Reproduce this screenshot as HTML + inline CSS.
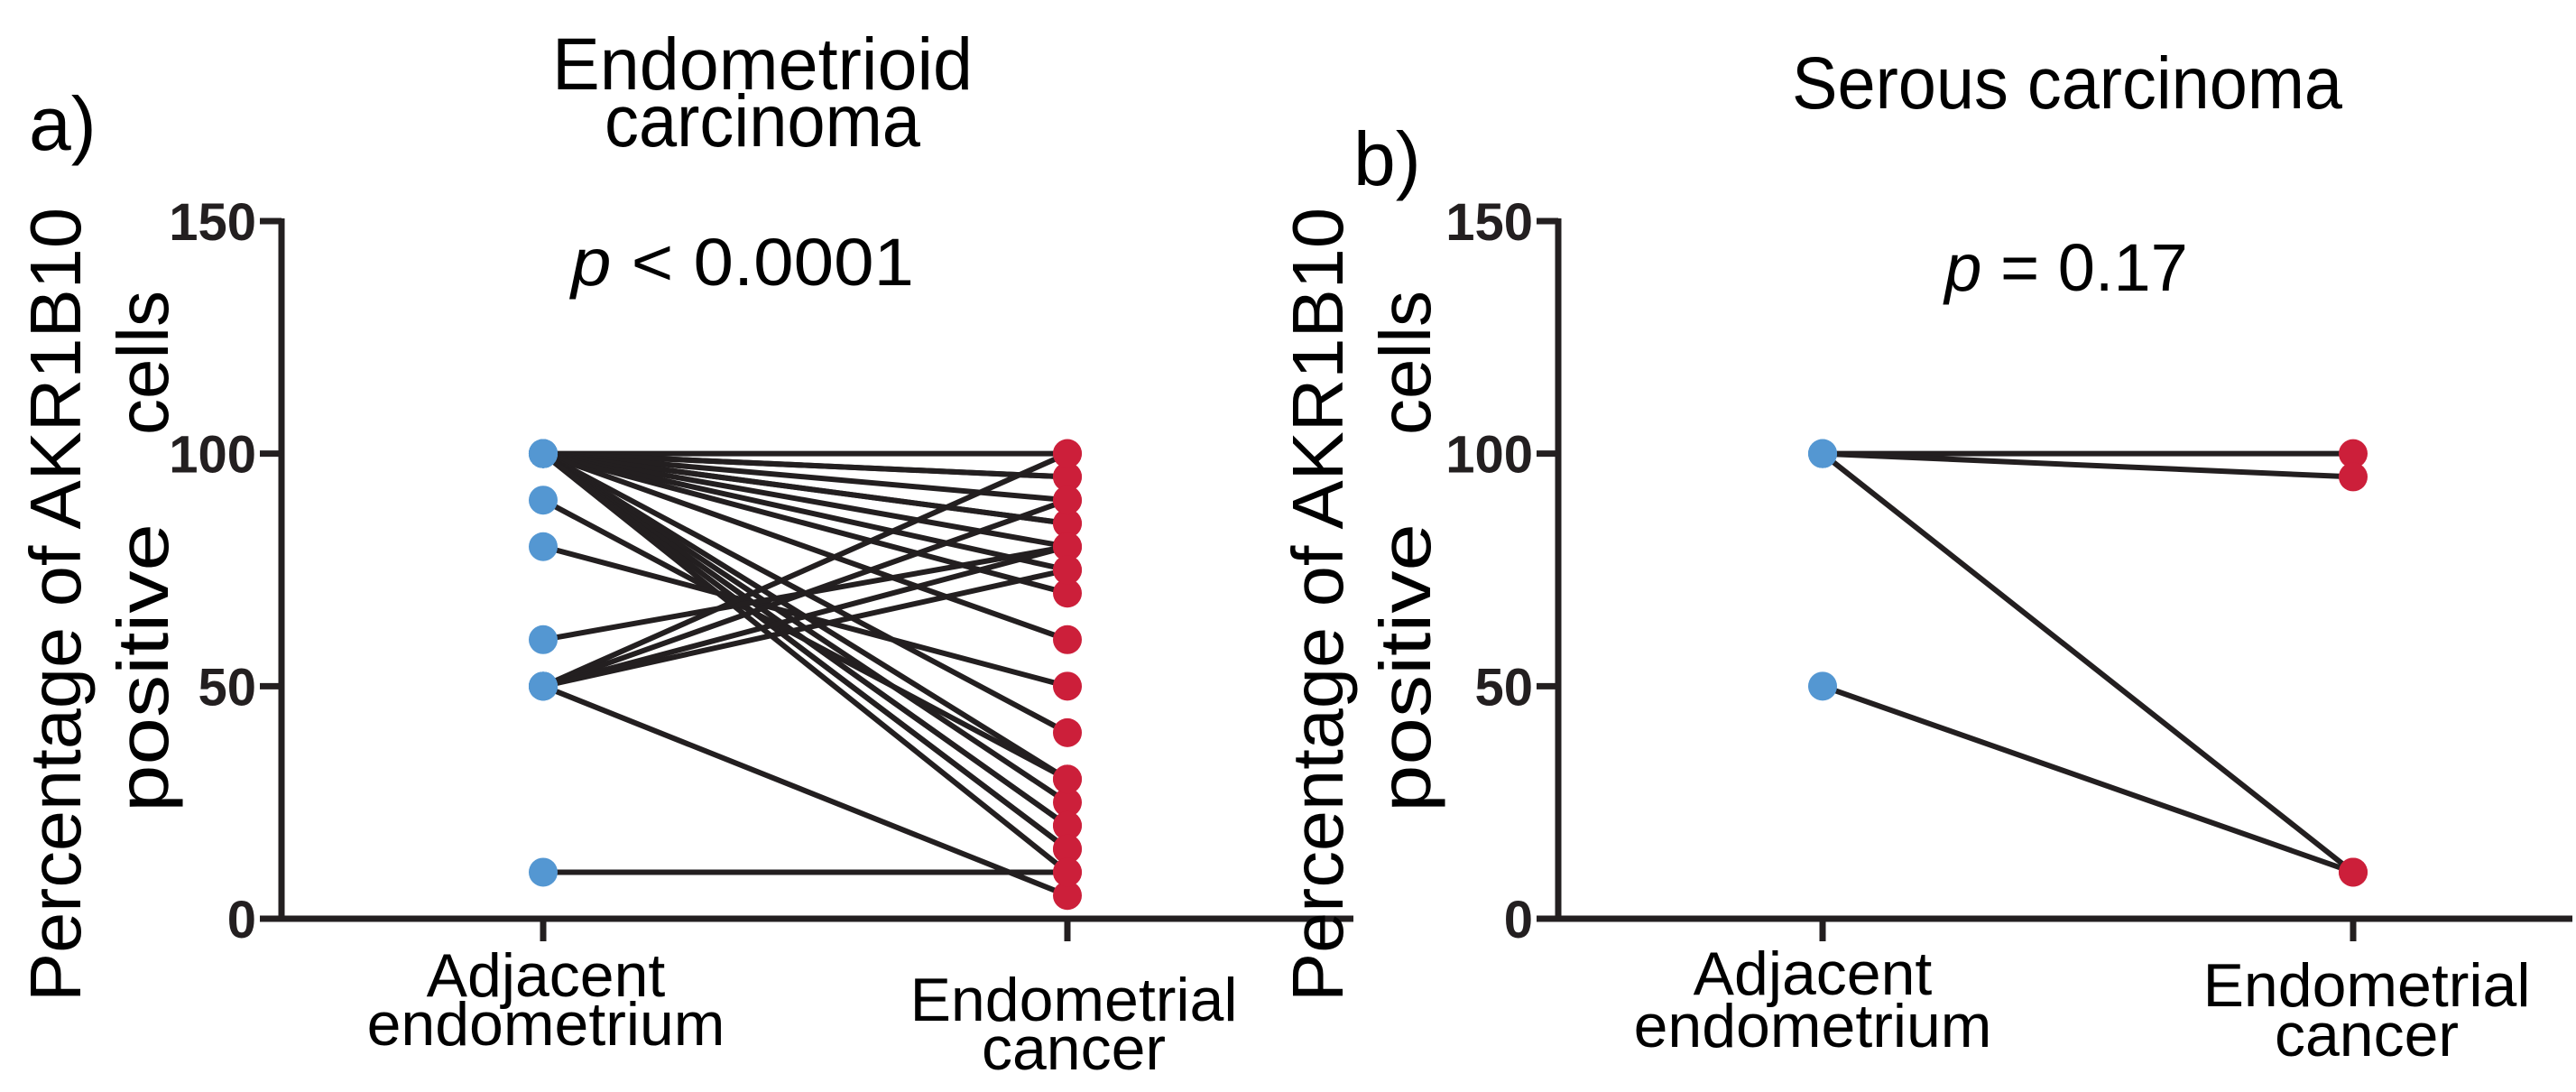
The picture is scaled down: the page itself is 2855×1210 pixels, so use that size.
<!DOCTYPE html>
<html><head><meta charset="utf-8"><style>
html,body{margin:0;padding:0;background:#fff;}
svg{display:block;font-family:"Liberation Sans",sans-serif;}
</style></head><body>
<svg id="fig" width="2855" height="1210" viewBox="0 0 2855 1210" xmlns="http://www.w3.org/2000/svg">
<g id="panelA">
  <text x="32" y="166" font-size="84">a)</text>
  <text x="845" y="99" font-size="82" text-anchor="middle" textLength="466" lengthAdjust="spacingAndGlyphs">Endometrioid</text>
  <text x="845" y="162" font-size="82" text-anchor="middle" textLength="350" lengthAdjust="spacingAndGlyphs">carcinoma</text>
  <text x="823" y="316" font-size="74" text-anchor="middle" textLength="380" lengthAdjust="spacingAndGlyphs"><tspan font-style="italic">p</tspan> &lt; 0.0001</text>
  <text transform="translate(89,670) rotate(-90)" font-size="80" text-anchor="middle" textLength="880" lengthAdjust="spacingAndGlyphs">Percentage of AKR1B10</text>
  <text transform="translate(186,740) rotate(-90)" font-size="80" text-anchor="middle" textLength="320" lengthAdjust="spacingAndGlyphs">positive</text>
  <text transform="translate(186,402) rotate(-90)" font-size="80" text-anchor="middle">cells</text>
  <text x="605" y="1104" font-size="68" text-anchor="middle">Adjacent</text>
  <text x="605" y="1158" font-size="68" text-anchor="middle">endometrium</text>
  <text x="1190" y="1131" font-size="68" text-anchor="middle">Endometrial</text>
  <text x="1190" y="1185" font-size="68" text-anchor="middle">cancer</text>
</g>
<g id="panelB">
  <text x="1500" y="205" font-size="84">b)</text>
  <text x="2291" y="120" font-size="82" text-anchor="middle" textLength="610" lengthAdjust="spacingAndGlyphs">Serous carcinoma</text>
  <text x="2290" y="322" font-size="74" text-anchor="middle"><tspan font-style="italic">p</tspan> = 0.17</text>
  <text transform="translate(1488,670) rotate(-90)" font-size="80" text-anchor="middle" textLength="880" lengthAdjust="spacingAndGlyphs">Percentage of AKR1B10</text>
  <text transform="translate(1585,740) rotate(-90)" font-size="80" text-anchor="middle" textLength="320" lengthAdjust="spacingAndGlyphs">positive</text>
  <text transform="translate(1585,402) rotate(-90)" font-size="80" text-anchor="middle">cells</text>
  <text x="2009" y="1102" font-size="68" text-anchor="middle">Adjacent</text>
  <text x="2009" y="1160" font-size="68" text-anchor="middle">endometrium</text>
  <text x="2623" y="1115" font-size="68" text-anchor="middle">Endometrial</text>
  <text x="2623" y="1170" font-size="68" text-anchor="middle">cancer</text>
</g>
</svg>
<script>
// Panel a: paired values (adjacent endometrium -> endometrial cancer)
const adjacentA = [100,100,100,100,100,100,100,100,100,100,100,100,100,100,100,100,100,100,90,80,60,50,50,50,50,50,10];
const cancerA   = [100,95,95,90,85,85,80,75,70,60,40,30,25,20,20,15,15,10,30,50,80,100,90,80,75,5,10];
// Panel b
const adjacentB = [100,100,100,50];
const cancerB   = [100,95,10,10];
const yTicks = [0,50,100,150];
const yTickLabels = ["0","50","100","150"];

const NS = "http://www.w3.org/2000/svg";
const Y0 = 1018, Y150 = 245;
function yScale(v){ return Y0 - (v/150)*(Y0 - Y150); }
function mk(tag, attrs, parent){
  const e = document.createElementNS(NS, tag);
  for (const k in attrs) e.setAttribute(k, attrs[k]);
  parent.appendChild(e);
  return e;
}
function drawPanel(gid, axisX, axisEnd, xAdj, xCan, adj, can, prefix){
  const g = document.getElementById(gid);
  const ax = mk('line',{x1:axisX,y1:Y150-3,x2:axisX,y2:Y0+3,stroke:'#231f20','stroke-width':7},g);
  
  
  const bx = mk('line',{x1:axisX-3,y1:Y0,x2:axisEnd,y2:Y0,stroke:'#231f20','stroke-width':7},g);
  
  
  yTicks.forEach((t,i)=>{
    const tk = mk('line',{x1:axisX-24,y1:yScale(t),x2:axisX,y2:yScale(t),stroke:'#231f20','stroke-width':7},g);
    
    
    const tl = mk('text',{x:axisX-28,y:yScale(t)+21,'font-size':58,'font-weight':'bold','text-anchor':'end',fill:'#231f20'},g);
    tl.textContent = yTickLabels[i];
    
    
  });
  [xAdj,xCan].forEach(x=>{
    const tk = mk('line',{x1:x,y1:Y0,x2:x,y2:Y0+25,stroke:'#231f20','stroke-width':7},g);
    
    
  });
  for (let i=0;i<adj.length;i++){
    const l = mk('line',{x1:xAdj,y1:yScale(adj[i]),x2:xCan,y2:yScale(can[i]),stroke:'#231f20','stroke-width':6},g);
    
    
  }
  for (let i=0;i<adj.length;i++){
    const c = mk('circle',{cx:xAdj,cy:yScale(adj[i]),r:16,fill:'#5497d2'},g);
    
    
    const d = mk('circle',{cx:xCan,cy:yScale(can[i]),r:16,fill:'#cc1f3a'},g);
    
    
  }
}
drawPanel('panelA', 312, 1500, 602, 1183, adjacentA, cancerA, 'panel-a');
drawPanel('panelB', 1727, 2851, 2020, 2608, adjacentB, cancerB, 'panel-b');
</script>
</body></html>
